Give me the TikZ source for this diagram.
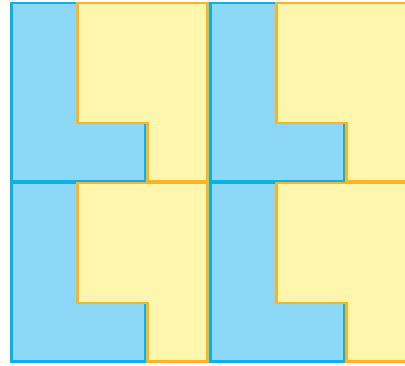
\documentclass[tikz,border=0pt]{standalone}
\usepackage{tikz}
\definecolor{skyfill}{HTML}{8DD8F6}
\definecolor{skyline}{HTML}{0AB1E9}
\definecolor{lemonfill}{HTML}{FFF6AE}
\definecolor{lemonline}{HTML}{FBB425}
\begin{document}
\begin{tikzpicture}[
  x=1pt, y=-1pt,
  bluepiece/.style={draw=skyline, fill=skyfill, line width=2.6pt, line join=miter},
  yellowpiece/.style={draw=lemonline, fill=lemonfill, line width=2.6pt, line join=miter}
]
\useasboundingbox (0,0) rectangle (405,365);
\foreach \col in {0,1}{
  \foreach \row in {0,1}{
    \begin{scope}[shift={(11.3+199*\col,2.8+180.3*\row)}]
      % blue L on the left
      \draw[bluepiece] (0,0) -- (66,0) -- (66,120) -- (134,120) -- (134,178.6) -- (0,178.6) -- cycle;
      % yellow piece on the right
      \draw[yellowpiece] (66,0) -- (196,0) -- (196,178.6) -- (136,178.6) -- (136,120) -- (66,120) -- cycle;
    \end{scope}
  }
}
\end{tikzpicture}
\end{document}
